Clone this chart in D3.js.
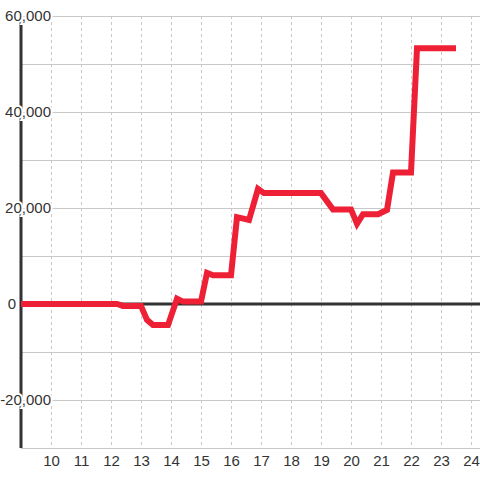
<!DOCTYPE html>
<html>
<head>
<meta charset="utf-8">
<script src="https://cdn.jsdelivr.net/npm/d3@7"></script>
<style>
  body { margin: 0; background: #fff; }
  text { font-family: "Liberation Sans", Arial, sans-serif; }
</style>
</head>
<body>
<div id="chart"></div>
<script>
  // hour of day and running value
  var hours = [9, 12.2, 12.4, 13.0, 13.2, 13.4, 13.9, 14.2, 14.4, 15.0, 15.2, 15.4, 16.0, 16.2, 16.6, 16.9, 17.1, 19.0, 19.4, 20.0, 20.2, 20.4, 20.9, 21.2, 21.4, 22.0, 22.2, 23.5];
  var values = [0, 0, -400, -400, -3300, -4400, -4400, 1100, 500, 500, 6500, 6000, 6000, 18100, 17500, 24000, 23100, 23100, 19700, 19700, 16700, 18700, 18700, 19600, 27400, 27400, 53300, 53300];
  var xTicks = [10, 11, 12, 13, 14, 15, 16, 17, 18, 19, 20, 21, 22, 23, 24];
  var yGrid = [-30000, -20000, -10000, 0, 10000, 20000, 30000, 40000, 50000, 60000];
  var yLabels = [-20000, 0, 20000, 40000, 60000];

  var data = hours.map(function(h, i) {
    return { h: h, v: values[i] };
  });

  var width = 480, height = 480;

  var x = d3.scaleLinear()
    .domain([9, 24])
    .range([21, 471]);

  var y = d3.scaleLinear()
    .domain([-30000, 60000])
    .range([448, 16]);

  var svg = d3.select("#chart")
    .append("svg")
    .attr("width", width)
    .attr("height", height);

  // vertical dashed grid
  svg.append("g")
    .selectAll("line")
    .data(xTicks)
    .enter().append("line")
      .attr("x1", function(d) { return x(d) + 0.5; })
      .attr("x2", function(d) { return x(d) + 0.5; })
      .attr("y1", y(60000))
      .attr("y2", y(-30000))
      .style("stroke", "#c8c8c8")
      .style("stroke-dasharray", "3,3");

  // horizontal grid
  svg.append("g")
    .selectAll("line")
    .data(yGrid)
    .enter().append("line")
      .attr("x1", x(9))
      .attr("x2", width)
      .attr("y1", function(d) { return y(d) + 0.5; })
      .attr("y2", function(d) { return y(d) + 0.5; })
      .style("stroke", "#c8c8c8");

  // zero line
  svg.append("line")
    .attr("x1", x(9))
    .attr("x2", width)
    .attr("y1", y(0))
    .attr("y2", y(0))
    .style("stroke", "#333")
    .style("stroke-width", 3);

  // y axis line
  svg.append("line")
    .attr("x1", x(9))
    .attr("x2", x(9))
    .attr("y1", y(60000))
    .attr("y2", y(-30000))
    .style("stroke", "#333")
    .style("stroke-width", 3);

  // y labels with white halo over the axis
  svg.append("g")
    .selectAll("text")
    .data(yLabels)
    .enter().append("text")
      .attr("x", function(d) { return d === 0 ? 16 : 51; })
      .attr("y", function(d) { return y(d); })
      .attr("dy", "0.36em")
      .attr("text-anchor", "end")
      .attr("font-size", 15)
      .attr("fill", "#333")
      .attr("stroke", "#fff")
      .attr("stroke-width", 4)
      .attr("paint-order", "stroke")
      .text(function(d) { return d3.format(",")(d).replace("−", "-"); });

  // x labels
  var xAxis = d3.axisBottom(x)
    .tickValues(xTicks)
    .tickSize(0)
    .tickPadding(0)
    .tickFormat(d3.format("d"));

  var gx = svg.append("g")
    .attr("transform", "translate(0," + 455 + ")")
    .call(xAxis);
  gx.select(".domain").remove();
  gx.selectAll("text")
    .attr("font-size", 15)
    .attr("font-family", "Liberation Sans, Arial, sans-serif")
    .attr("fill", "#333")
    .attr("dy", "0.71em");

  // the series
  var line = d3.line()
    .x(function(d) { return x(d.h); })
    .y(function(d) { return y(d.v); });

  svg.append("path")
    .datum(data)
    .attr("d", line)
    .style("fill", "none")
    .style("stroke", "#ee2035")
    .style("stroke-width", 6);
</script>
</body>
</html>
